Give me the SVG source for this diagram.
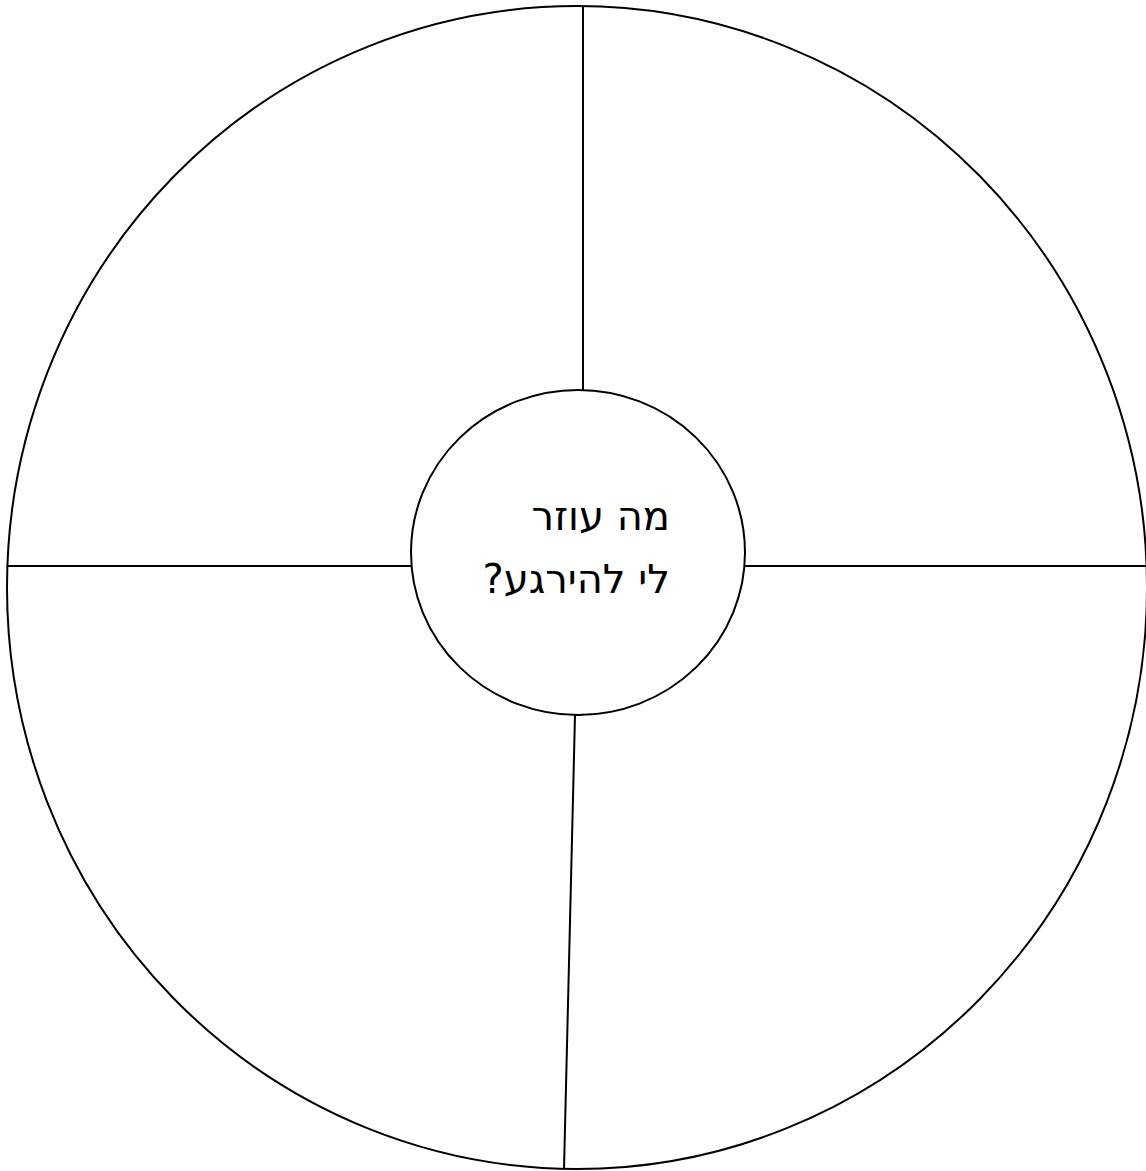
<svg xmlns="http://www.w3.org/2000/svg" width="1146" height="1171" viewBox="0 0 1146 1171">
<style>
.ln{fill:none;stroke:#000;stroke-width:2}
.t{font-family:"DejaVu Sans","Liberation Sans",sans-serif;font-size:40px;fill:#000}
</style>
<rect width="1146" height="1171" fill="#fff"/>
<g id="connectors">
<line class="ln" x1="583" y1="6" x2="583" y2="390"/>
<line class="ln" x1="575" y1="715" x2="564" y2="1169"/>
<line class="ln" x1="8" y1="566" x2="411" y2="566"/>
<line class="ln" x1="745" y1="566" x2="1146" y2="566"/>
</g>
<g id="outer">
<ellipse class="ln" cx="577" cy="587.5" rx="570" ry="581.5"/>
</g>
<g id="center">
<ellipse class="ln" cx="578" cy="552.5" rx="167" ry="162.5" fill="#fff"/>
<text class="t" x="670" y="530" direction="rtl" text-anchor="start">מה עוזר</text>
<text class="t" x="670" y="593" direction="rtl" text-anchor="start">לי להירגע?</text>
</g>
</svg>
